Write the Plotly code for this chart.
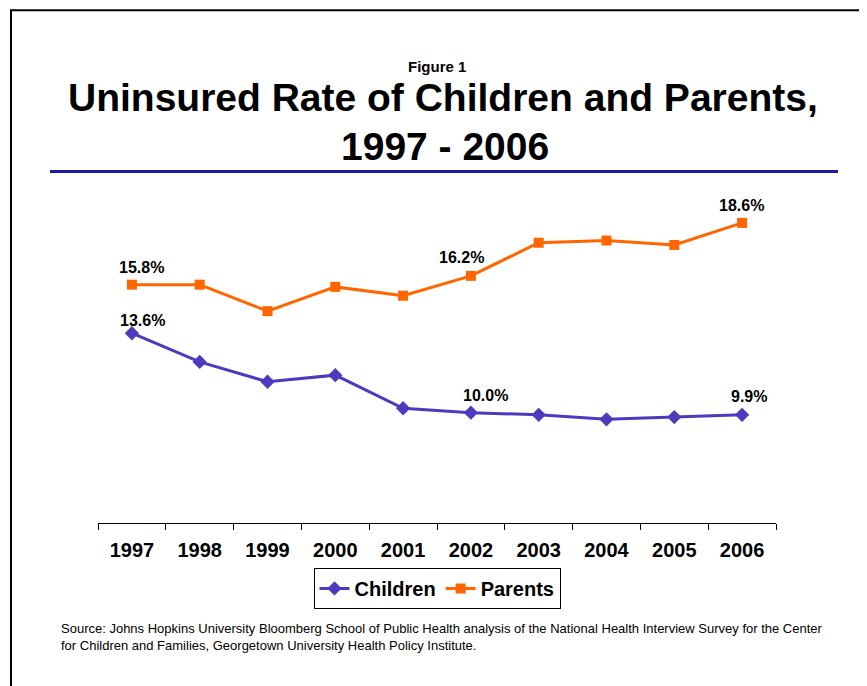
import plotly.graph_objects as go

years = ["1997", "1998", "1999", "2000", "2001", "2002", "2003", "2004", "2005", "2006"]
children = [13.6, 12.3, 11.4, 11.7, 10.2, 10.0, 9.9, 9.7, 9.8, 9.9]
parents = [15.8, 15.8, 14.6, 15.7, 15.3, 16.2, 17.7, 17.8, 17.6, 18.6]
labeled_years = ["1997", "2002", "2006"]

OFF = 8  # page body margin
W, H = 867 - OFF, 686 - OFF
# plot area in reference-image pixels
L, R, T, B = 98, 776, 191.5, 523


def px(x):
    return (x - L) / (R - L)


def py(y):
    return (B - y) / (B - T)


PURPLE = "#4B3BBF"
ORANGE = "#FF6600"
FONT = "Liberation Sans, Arial, sans-serif"

fig = go.Figure()
fig.add_trace(go.Scatter(
    x=years, y=children, name="Children", mode="lines+markers",
    line=dict(color=PURPLE, width=3),
    marker=dict(symbol="diamond", size=11, color=PURPLE),
))
fig.add_trace(go.Scatter(
    x=years, y=parents, name="Parents", mode="lines+markers",
    line=dict(color=ORANGE, width=3),
    marker=dict(symbol="square", size=10, color=ORANGE),
))

annotations = []
child_shift = {"1997": (11, 13), "2002": (15, 17), "2006": (7, 18)}
parent_shift = {"1997": (10, 17), "2002": (-9, 18), "2006": (-1, 17)}
for yr in labeled_years:
    i = years.index(yr)
    cx, cy = child_shift[yr]
    annotations.append(dict(x=i, y=children[i], xref="x", yref="y",
                            text=f"<b>{children[i]:.1f}%</b>", showarrow=False,
                            yanchor="middle", yshift=cy, xshift=cx,
                            font=dict(family=FONT, size=16, color="black")))
    pxs, pys = parent_shift[yr]
    annotations.append(dict(x=i, y=parents[i], xref="x", yref="y",
                            text=f"<b>{parents[i]:.1f}%</b>", showarrow=False,
                            yanchor="middle", yshift=pys, xshift=pxs,
                            font=dict(family=FONT, size=16, color="black")))

annotations.append(dict(x=px(437), y=py(66), xref="paper", yref="paper",
                        text="<b>Figure 1</b>", showarrow=False,
                        xanchor="center", yanchor="middle",
                        font=dict(family=FONT, size=15, color="black")))
annotations.append(dict(x=px(443), y=py(97), xref="paper", yref="paper",
                        text="<b>Uninsured Rate of Children and Parents,</b>", showarrow=False,
                        xanchor="center", yanchor="middle",
                        font=dict(family=FONT, size=39, color="black")))
annotations.append(dict(x=px(445), y=py(146), xref="paper", yref="paper",
                        text="<b>1997 - 2006</b>", showarrow=False,
                        xanchor="center", yanchor="middle",
                        font=dict(family=FONT, size=39, color="black")))
annotations.append(dict(x=px(59), y=py(637), xref="paper", yref="paper",
                        text="Source: Johns Hopkins University Bloomberg School of Public Health analysis of the National Health Interview Survey for the Center<br>for Children and Families, Georgetown University Health Policy Institute.",
                        showarrow=False, xanchor="left", yanchor="middle", align="left",
                        font=dict(family=FONT, size=13, color="black")))

shapes = [
    dict(type="line", xref="paper", yref="paper", x0=px(50), x1=px(838), y0=py(171), y1=py(171),
         line=dict(color="#1A1AA6", width=3)),
    dict(type="line", xref="paper", yref="paper", x0=px(10), x1=px(880), y0=py(9.5), y1=py(9.5),
         line=dict(color="black", width=2)),
    dict(type="line", xref="paper", yref="paper", x0=px(11), x1=px(11), y0=py(9), y1=py(700),
         line=dict(color="black", width=2)),
]

fig.update_layout(
    width=W, height=H,
    margin=dict(l=L - OFF, r=W - (R - OFF), t=T - OFF, b=H - (B - OFF), pad=0),
    paper_bgcolor="white", plot_bgcolor="white",
    showlegend=True,
    legend=dict(orientation="h", x=0.5, xanchor="center", y=py(568), yanchor="top",
                bordercolor="black", borderwidth=1, bgcolor="white",
                font=dict(family=FONT, size=20, color="black", weight="bold"),
                itemwidth=30, tracegroupgap=0),
    xaxis=dict(type="category", showline=True, linecolor="black", linewidth=1,
               ticks="outside", ticklen=6, tickcolor="black", tickson="boundaries",
               ticklabelstandoff=9,
               showgrid=False, zeroline=False,
               tickfont=dict(family=FONT, size=20, color="black", weight="bold"),
               range=[-0.5, 9.5]),
    yaxis=dict(range=[5, 20], visible=False, showgrid=False, zeroline=False),
    annotations=annotations,
    shapes=shapes,
)

fig.write_html("out.html")
